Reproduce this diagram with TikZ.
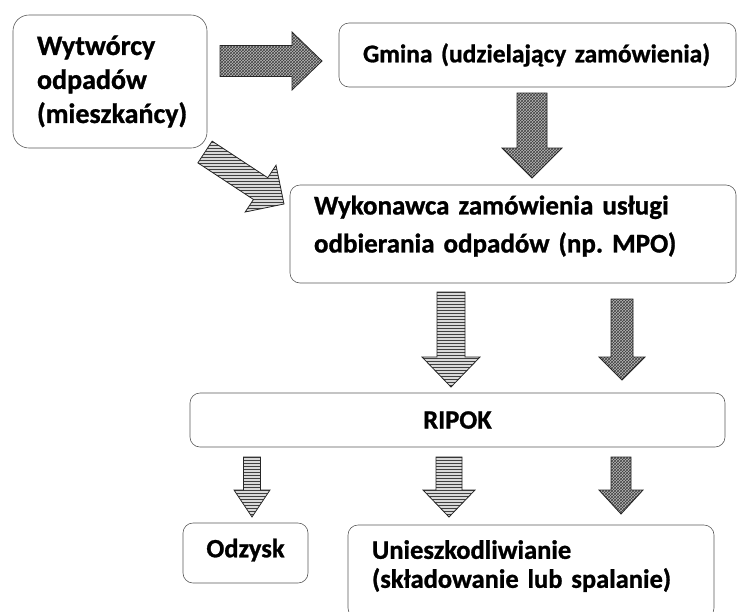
\documentclass[tikz,border=0pt]{standalone}
\usepackage{fontspec}
\setmainfont{Carlito}[BoldFeatures={FakeBold=1}]
\usetikzlibrary{calc,patterns}
\frenchspacing

\newcommand\blockarrow[6][]{%
  \coordinate (ba-h) at ($(#3)!#6!(#2)$);
  \path[#1] ($(#2)!#4!90:(#3)$) -- ($(ba-h)!#4!90:(#3)$) -- ($(ba-h)!#5!90:(#3)$)
    -- (#3) -- ($(ba-h)!#5!-90:(#3)$) -- ($(ba-h)!#4!-90:(#3)$) -- ($(#2)!#4!-90:(#3)$) -- cycle;}

\tikzset{
  box/.style={draw=black!65, line width=0.6pt, rounded corners=10pt, inner ysep=0pt,
    font=\bfseries\fontsize{26.5}{34}\selectfont},
  ltext/.style={align=left, inner xsep=24pt, text width=#1},
  ctext/.style={align=center},
  darkarr/.style={draw=black!85, line width=0.8pt, preaction={fill=gray!55},
    pattern=crosshatch, pattern color=black!75},
  lightarr/.style={draw=black!85, line width=0.8pt, preaction={fill=gray!30},
    pattern=horizontal lines, pattern color=black!75},
}

\begin{document}
\begin{tikzpicture}[x=1pt,y=-1pt]
\useasboundingbox (0,0) rectangle (738,611);

% boxes
\node[box, ltext=146pt, rounded corners=16pt, minimum width=194pt, minimum height=133pt,
  font=\bfseries\fontsize{28}{34}\selectfont]
  (wyt) at (110,81.5) {Wytwórcy\\odpadów\\(mieszkańcy)};
\node[box, ltext=349pt, minimum width=397pt, minimum height=64pt,
  font=\bfseries\fontsize{25.5}{34}\selectfont]
  (gmi) at (537.5,55) {\mbox{Gmina (udzielający zamówienia)}};
\node[box, ltext=398pt, minimum width=446pt, minimum height=98pt,
  font=\bfseries\fontsize{27}{38}\selectfont, text depth=58pt]
  (wyk) at (513,234) {Wykonawca zamówienia usługi\\odbierania odpadów (np. MPO)};
\node[box, ctext, minimum width=535pt, minimum height=54pt]
  (rip) at (457.5,420) {RIPOK};
\node[box, ctext, minimum width=125pt, minimum height=60pt, text depth=10pt]
  (odz) at (245.5,553) {Odzysk};
\node[box, ltext=318pt, minimum width=364pt, minimum height=93pt,
  font=\bfseries\fontsize{26.5}{29}\selectfont, text depth=44pt]
  (uni) at (531,571.5) {Unieszkodliwianie\\(składowanie lub spalanie)};

% arrow end points
\coordinate (a1t) at (220,61);  \coordinate (a1h) at (322,61);
\coordinate (a2t) at (532,93);  \coordinate (a2h) at (532,178);
\coordinate (a3t) at (205,152); \coordinate (a3h) at (284,204);
\coordinate (a4t) at (451,292); \coordinate (a4h) at (451,387);
\coordinate (a5t) at (622,299); \coordinate (a5h) at (622,380);
\coordinate (a6t) at (252,457); \coordinate (a6h) at (252,517);
\coordinate (a7t) at (449,457); \coordinate (a7h) at (449,517);
\coordinate (a8t) at (621,457); \coordinate (a8h) at (621,514);

% block arrows
\blockarrow[darkarr]{a1t}{a1h}{15.5pt}{29pt}{30pt}
\blockarrow[darkarr]{a2t}{a2h}{15pt}{30pt}{30pt}
\blockarrow[lightarr]{a3t}{a3h}{13pt}{28pt}{28pt}
\blockarrow[lightarr]{a4t}{a4h}{14pt}{29pt}{30pt}
\blockarrow[darkarr]{a5t}{a5h}{11pt}{23pt}{23pt}
\blockarrow[lightarr]{a6t}{a6h}{8.5pt}{18pt}{27pt}
\blockarrow[lightarr]{a7t}{a7h}{13pt}{26pt}{27pt}
\blockarrow[darkarr]{a8t}{a8h}{10pt}{22pt}{24pt}
\end{tikzpicture}
\end{document}
